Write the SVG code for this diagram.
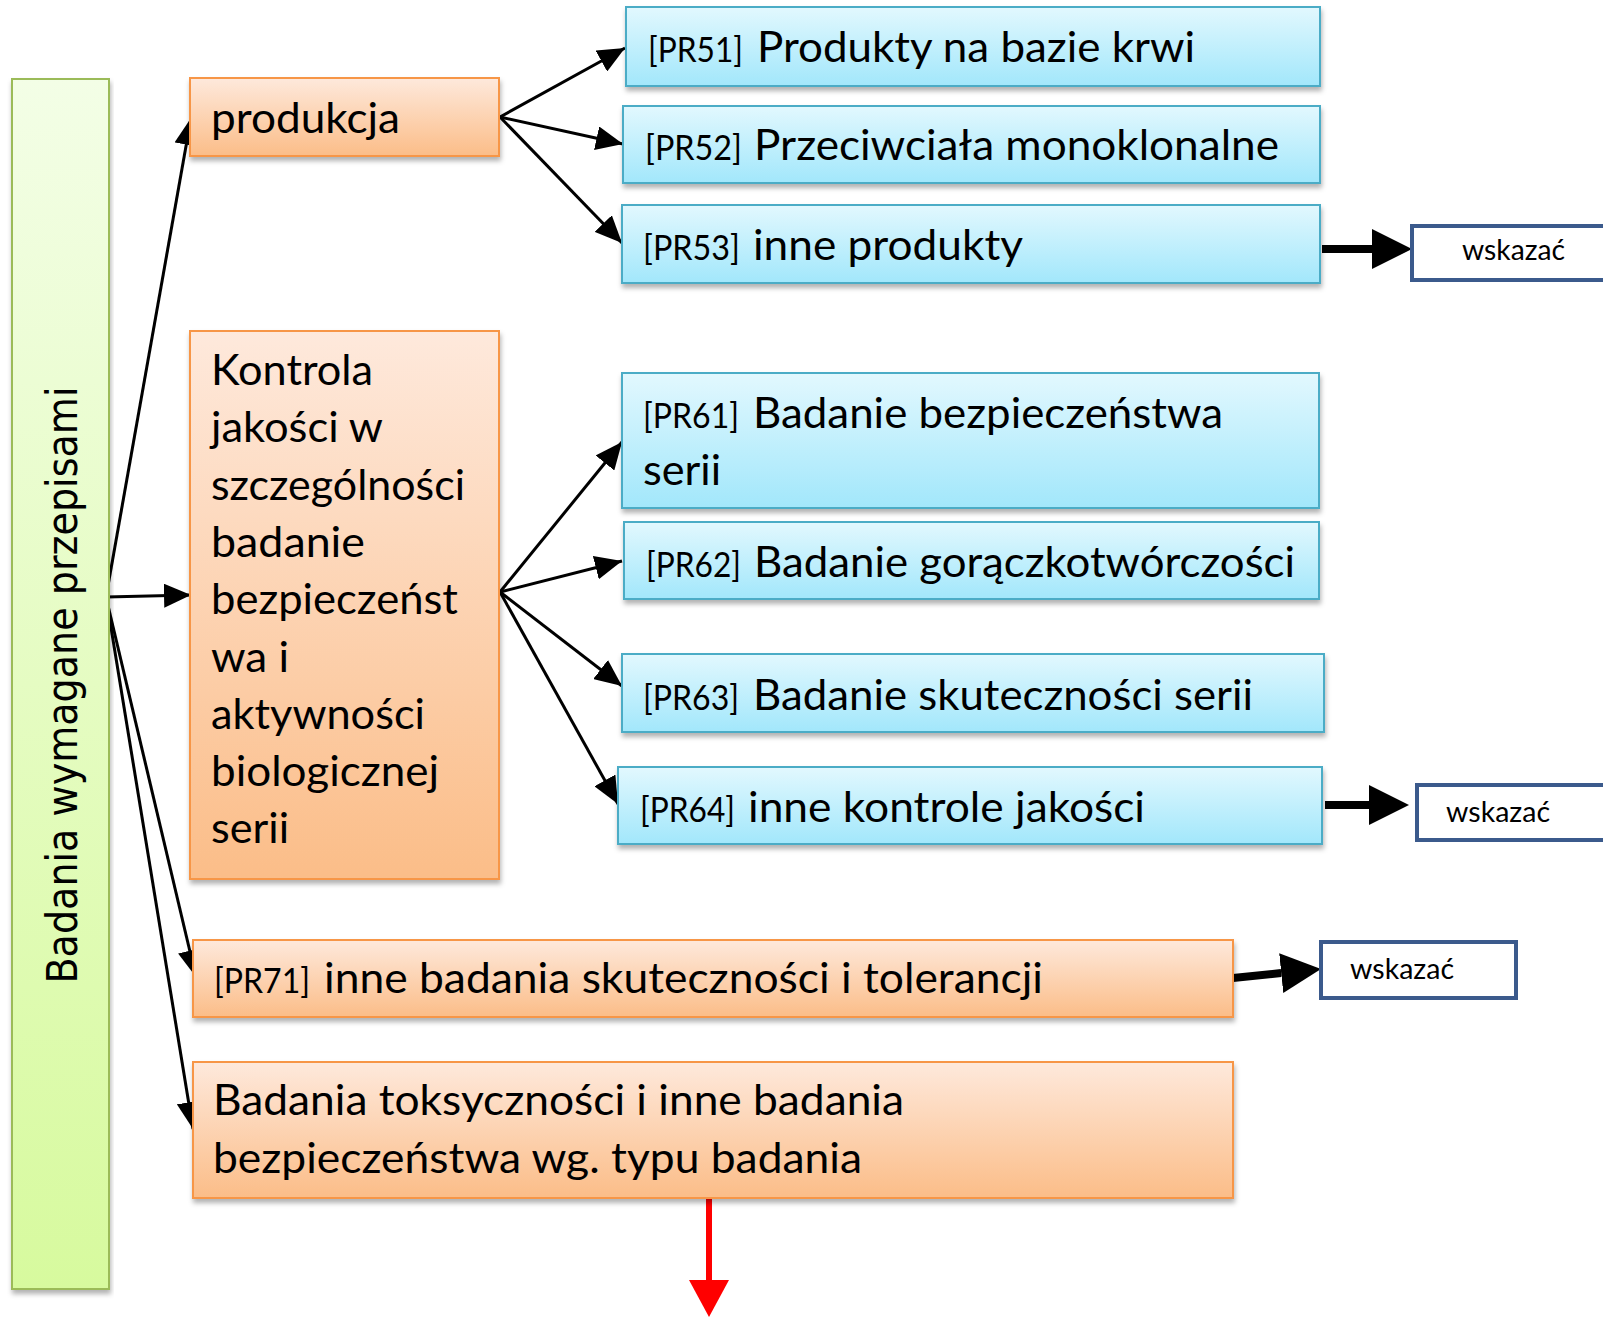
<svg xmlns="http://www.w3.org/2000/svg" width="1603" height="1317" viewBox="0 0 1603 1317">
<style>
.t{font-family:Lato,"Open Sans","Liberation Sans",sans-serif;font-size:42px;fill:#000}
.c{font-family:Lato,"Open Sans","Liberation Sans",sans-serif;font-size:35px;fill:#000}
.w{font-family:Lato,"Open Sans","Liberation Sans",sans-serif;font-size:29px;fill:#000}
.v{font-family:"DejaVu Sans","Liberation Sans",sans-serif;font-size:43px;fill:#000}
.blue{fill:url(#gBlue);stroke:#4bacc6;stroke-width:2;filter:url(#sh)}
.orange{fill:url(#gOrange);stroke:#f79646;stroke-width:2;filter:url(#sh)}
.green{fill:url(#gGreen);stroke:#9bbb59;stroke-width:2;filter:url(#sh)}
.note{fill:#fff;stroke:#3b5a8c;stroke-width:4}
.thin{stroke:#000;stroke-width:3;fill:none;marker-end:url(#aThin)}
.thick{stroke:#000;stroke-width:8;fill:none;marker-end:url(#aThick)}
.red{stroke:#ff0000;stroke-width:6;fill:none;marker-end:url(#aRed)}
</style>
<defs>
<linearGradient id="gBlue" x1="0" y1="0" x2="0" y2="1"><stop offset="0" stop-color="#e2f8fe"/><stop offset="1" stop-color="#a2e7fb"/></linearGradient>
<linearGradient id="gOrange" x1="0" y1="0" x2="0" y2="1"><stop offset="0" stop-color="#fee9dc"/><stop offset="1" stop-color="#fbbd88"/></linearGradient>
<linearGradient id="gGreen" x1="0" y1="0" x2="0" y2="1"><stop offset="0" stop-color="#f3fee6"/><stop offset="1" stop-color="#d7fa9e"/></linearGradient>
<filter id="sh" x="-5%" y="-10%" width="110%" height="130%"><feDropShadow dx="1" dy="4" stdDeviation="2.5" flood-color="#000" flood-opacity="0.3"/></filter>
<marker id="aThin" markerUnits="userSpaceOnUse" markerWidth="28" markerHeight="24" refX="27" refY="12" orient="auto"><path d="M0,0 L27,12 L0,24 z" fill="#000"/></marker>
<marker id="aThick" markerUnits="userSpaceOnUse" markerWidth="40" markerHeight="40" refX="0" refY="20" orient="auto"><path d="M0,0 L40,20 L0,40 z" fill="#000"/></marker>
<marker id="aRed" markerUnits="userSpaceOnUse" markerWidth="38" markerHeight="40" refX="0" refY="20" orient="auto"><path d="M0,0 L37,20 L0,40 z" fill="#ff0000"/></marker>
</defs>
<rect width="1603" height="1317" fill="#fff"/>

<g id="connectors">
<line class="thin" x1="106" y1="597" x2="191" y2="118"/>
<line class="thin" x1="106" y1="597" x2="191" y2="595"/>
<line class="thin" x1="106" y1="597" x2="196" y2="977"/>
<line class="thin" x1="106" y1="597" x2="193" y2="1129"/>
<line class="thin" x1="500" y1="117" x2="625" y2="48"/>
<line class="thin" x1="500" y1="117" x2="623" y2="144"/>
<line class="thin" x1="500" y1="117" x2="622" y2="243"/>
<line class="thin" x1="500" y1="592" x2="622" y2="442"/>
<line class="thin" x1="500" y1="592" x2="622" y2="561"/>
<line class="thin" x1="500" y1="592" x2="622" y2="686"/>
<line class="thin" x1="500" y1="592" x2="618" y2="804"/>
<line class="thick" x1="1322" y1="249" x2="1372" y2="249"/>
<line class="thick" x1="1325" y1="805" x2="1369" y2="805"/>
<line class="thick" x1="1233" y1="978" x2="1281.2" y2="973.1"/>
<line class="red" x1="709" y1="1198" x2="709" y2="1280"/>
</g>

<g id="n-root">
<rect class="green" x="12" y="79" width="97" height="1210"/>
<text class="v" transform="translate(77,685) rotate(-90)" text-anchor="middle" textLength="597" lengthAdjust="spacingAndGlyphs">Badania wymagane przepisami</text>
</g>

<g id="n-produkcja">
<rect class="orange" x="190" y="78" width="309" height="78"/>
<text class="t" x="211" y="133" textLength="189" lengthAdjust="spacingAndGlyphs">produkcja</text>
</g>

<g id="n-kontrola">
<rect class="orange" x="190" y="331" width="309" height="548"/>
<text class="t" x="211" y="385" textLength="162" lengthAdjust="spacingAndGlyphs">Kontrola</text>
<text class="t" x="211" y="442" textLength="172" lengthAdjust="spacingAndGlyphs">jakości w</text>
<text class="t" x="211" y="499.5" textLength="254" lengthAdjust="spacingAndGlyphs">szczególności</text>
<text class="t" x="211" y="557" textLength="154" lengthAdjust="spacingAndGlyphs">badanie</text>
<text class="t" x="211" y="614" textLength="247" lengthAdjust="spacingAndGlyphs">bezpieczeńst</text>
<text class="t" x="211" y="671.5" textLength="78" lengthAdjust="spacingAndGlyphs">wa i</text>
<text class="t" x="211" y="728.5" textLength="214" lengthAdjust="spacingAndGlyphs">aktywności</text>
<text class="t" x="211" y="786" textLength="228" lengthAdjust="spacingAndGlyphs">biologicznej</text>
<text class="t" x="211" y="843" textLength="78" lengthAdjust="spacingAndGlyphs">serii</text>
</g>

<g id="n-pr51">
<rect class="blue" x="626" y="7" width="694" height="79"/>
<text class="c" x="648" y="62" textLength="95" lengthAdjust="spacingAndGlyphs">[PR51]</text>
<text class="t" x="757" y="62" textLength="438" lengthAdjust="spacingAndGlyphs">Produkty na bazie krwi</text>
</g>

<g id="n-pr52">
<rect class="blue" x="623" y="106" width="697" height="77"/>
<text class="c" x="645" y="160" textLength="97" lengthAdjust="spacingAndGlyphs">[PR52]</text>
<text class="t" x="754" y="160" textLength="525" lengthAdjust="spacingAndGlyphs">Przeciwciała monoklonalne</text>
</g>

<g id="n-pr53">
<rect class="blue" x="622" y="205" width="698" height="78"/>
<text class="c" x="643" y="260" textLength="97" lengthAdjust="spacingAndGlyphs">[PR53]</text>
<text class="t" x="753" y="260" textLength="270" lengthAdjust="spacingAndGlyphs">inne produkty</text>
</g>

<g id="n-pr61">
<rect class="blue" x="622" y="373" width="697" height="135"/>
<text class="c" x="643" y="428" textLength="96" lengthAdjust="spacingAndGlyphs">[PR61]</text>
<text class="t" x="753" y="428" textLength="470" lengthAdjust="spacingAndGlyphs">Badanie bezpieczeństwa</text>
<text class="t" x="643" y="485" textLength="78" lengthAdjust="spacingAndGlyphs">serii</text>
</g>

<g id="n-pr62">
<rect class="blue" x="624" y="522" width="695" height="77"/>
<text class="c" x="646" y="577" textLength="95" lengthAdjust="spacingAndGlyphs">[PR62]</text>
<text class="t" x="754" y="577" textLength="541" lengthAdjust="spacingAndGlyphs">Badanie gorączkotwórczości</text>
</g>

<g id="n-pr63">
<rect class="blue" x="622" y="654" width="702" height="78"/>
<text class="c" x="643" y="710" textLength="96" lengthAdjust="spacingAndGlyphs">[PR63]</text>
<text class="t" x="753" y="710" textLength="500" lengthAdjust="spacingAndGlyphs">Badanie skuteczności serii</text>
</g>

<g id="n-pr64">
<rect class="blue" x="618" y="767" width="704" height="77"/>
<text class="c" x="640" y="822" textLength="95" lengthAdjust="spacingAndGlyphs">[PR64]</text>
<text class="t" x="748" y="822" textLength="397" lengthAdjust="spacingAndGlyphs">inne kontrole jakości</text>
</g>

<g id="n-pr71">
<rect class="orange" x="193" y="940" width="1040" height="77"/>
<text class="c" x="214" y="993" textLength="96" lengthAdjust="spacingAndGlyphs">[PR71]</text>
<text class="t" x="324" y="993" textLength="719" lengthAdjust="spacingAndGlyphs">inne badania skuteczności i tolerancji</text>
</g>

<g id="n-toks">
<rect class="orange" x="193" y="1062" width="1040" height="136"/>
<text class="t" x="213" y="1115" textLength="691" lengthAdjust="spacingAndGlyphs">Badania toksyczności i inne badania</text>
<text class="t" x="213" y="1173" textLength="649" lengthAdjust="spacingAndGlyphs">bezpieczeństwa wg. typu badania</text>
</g>

<g id="n-w1">
<rect class="note" x="1412" y="226" width="220" height="54"/>
<text class="w" x="1462" y="260" textLength="103" lengthAdjust="spacingAndGlyphs">wskazać</text>
</g>

<g id="n-w2">
<rect class="note" x="1417" y="785" width="220" height="55"/>
<text class="w" x="1446" y="822" textLength="104" lengthAdjust="spacingAndGlyphs">wskazać</text>
</g>

<g id="n-w3">
<rect class="note" x="1321" y="942" width="195" height="56"/>
<text class="w" x="1350" y="979" textLength="104" lengthAdjust="spacingAndGlyphs">wskazać</text>
</g>
</svg>
